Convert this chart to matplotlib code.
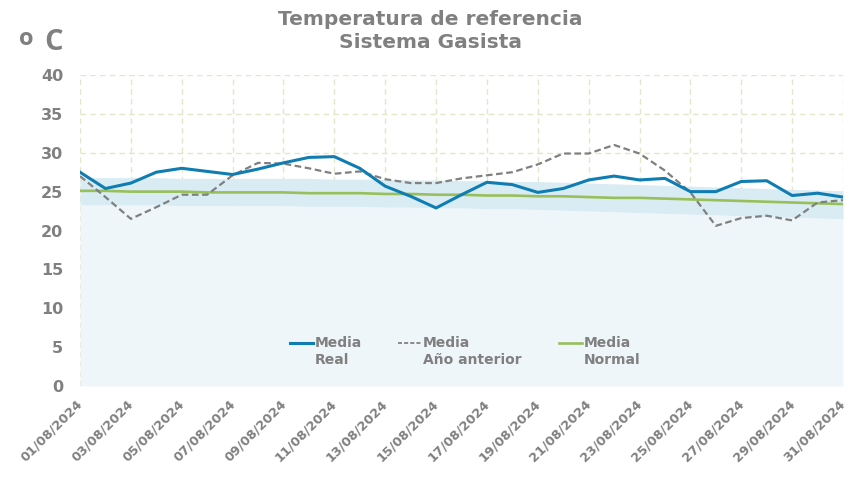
import matplotlib
matplotlib.use("Agg")
import matplotlib.pyplot as plt
from matplotlib.lines import Line2D
from matplotlib.transforms import ScaledTranslation

# Data (agosto 2024)
dates = [f"{d:02d}/08/2024" for d in range(1, 32)]
real = [27.5, 25.4, 26.1, 27.5, 28.0, 27.6, 27.2, 27.9, 28.7, 29.4, 29.5, 28.0,
        25.7, 24.4, 22.9, 24.6, 26.2, 25.9, 24.9, 25.4, 26.5, 27.0, 26.5, 26.7,
        25.0, 25.0, 26.3, 26.4, 24.5, 24.8, 24.3]
prev_year = [27.0, 24.3, 21.5, 23.0, 24.6, 24.6, 27.1, 28.7, 28.6, 28.0, 27.3, 27.6,
             26.6, 26.1, 26.1, 26.7, 27.1, 27.5, 28.5, 29.9, 29.9, 31.0, 29.9, 27.7,
             24.9, 20.6, 21.6, 21.9, 21.3, 23.6, 23.9]
normal = [25.1, 25.1, 25.0, 25.0, 25.0, 24.9, 24.9, 24.9, 24.9, 24.8, 24.8, 24.8,
          24.7, 24.7, 24.6, 24.6, 24.5, 24.5, 24.4, 24.4, 24.3, 24.2, 24.2, 24.1,
          24.0, 23.9, 23.8, 23.7, 23.6, 23.5, 23.4]
band_max = [26.8, 26.8, 26.8, 26.8, 26.7, 26.7, 26.7, 26.7, 26.7, 26.7, 26.6, 26.6,
            26.6, 26.5, 26.5, 26.4, 26.4, 26.3, 26.3, 26.2, 26.1, 26.0, 25.9, 25.8,
            25.7, 25.6, 25.5, 25.4, 25.3, 25.2, 25.1]
band_min = [23.3, 23.3, 23.3, 23.3, 23.2, 23.2, 23.2, 23.2, 23.2, 23.1, 23.1, 23.1,
            23.0, 23.0, 22.9, 22.9, 22.8, 22.8, 22.7, 22.6, 22.5, 22.4, 22.3, 22.2,
            22.1, 22.0, 21.9, 21.8, 21.7, 21.6, 21.5]

GRAY = "#808080"
BLUE = "#0f7db2"
GREEN = "#97bf5a"
GRID = "#e1e7c8"

x = list(range(len(dates)))

fig = plt.figure(figsize=(8.47, 4.78), dpi=100)
ax = fig.add_axes([80 / 847, 1 - 386 / 478, 763 / 847, 311 / 478])

# stacked areas: pale below the band, darker band between min and max
ax.fill_between(x, 0, band_min, color="#eef6f9", lw=0, zorder=1)
ax.fill_between(x, band_min, band_max, color="#d9ecf3", lw=0, zorder=1)

ax.plot(x, normal, color=GREEN, lw=1.9, zorder=3)
ax.plot(x, prev_year, color=GRAY, lw=1.6, ls=(0, (3, 1.6)), zorder=4)
ax.plot(x, real, color=BLUE, lw=2.2, zorder=5)

ax.set_xlim(0, len(dates) - 1)
ax.set_ylim(0, 40)
ax.set_yticks(range(0, 41, 5))
ax.set_xticks(x[::2])
ax.set_xticklabels(dates[::2], rotation=45, ha="right", rotation_mode="anchor")

ax.grid(True, color=GRID, ls=(0, (4, 3)), lw=1, zorder=0)
ax.set_axisbelow(True)
for s in ax.spines.values():
    s.set_visible(False)
ax.tick_params(length=0, labelcolor=GRAY)
ax.tick_params(axis="y", pad=12, labelsize=11.5)
ax.tick_params(axis="x", pad=8, labelsize=9.3)
shift = ScaledTranslation(-4 / 100, 0, fig.dpi_scale_trans)
for lab in ax.get_xticklabels():
    lab.set_fontweight("bold")
    lab.set_transform(lab.get_transform() + shift)
for lab in ax.get_yticklabels():
    lab.set_fontweight("bold")

# legend, handles aligned with the first text line
entries = [("Media\nReal", BLUE, "-", 2.2, 290),
           ("Media\nAño anterior", GRAY, (0, (2.2, 1.2)), 1.3, 398),
           ("Media\nNormal", GREEN, "-", 1.9, 559)]
for label, col, ls, lw, px in entries:
    y0 = 1 - 343 / 478
    fig.add_artist(Line2D([px / 847, (px + 23) / 847], [y0, y0], color=col,
                          ls=ls, lw=lw, transform=fig.transFigure))
    fig.text((px + 25) / 847, y0 + 7 / 478, label, ha="left", va="top",
             fontsize=10, fontweight="bold", color=GRAY, linespacing=1.25)

fig.text(430 / 847, 1 - 10 / 478, "Temperatura de referencia\nSistema Gasista",
         ha="center", va="top", fontsize=14.5, fontweight="bold", color=GRAY,
         linespacing=1.3)
# unit label: ordinal sign drawn a bit larger, as in the original
fig.text(19 / 847, 1 - 59 / 478, "º", ha="left", va="baseline",
         fontsize=27, fontweight="bold", color=GRAY,
         family=["Open Sans", "DejaVu Sans"])
fig.text(44 / 847, 1 - 50 / 478, "C", ha="left", va="baseline",
         fontsize=21, fontweight="bold", color=GRAY,
         family=["Open Sans", "DejaVu Sans"])

fig.savefig("out.png", dpi=100)
